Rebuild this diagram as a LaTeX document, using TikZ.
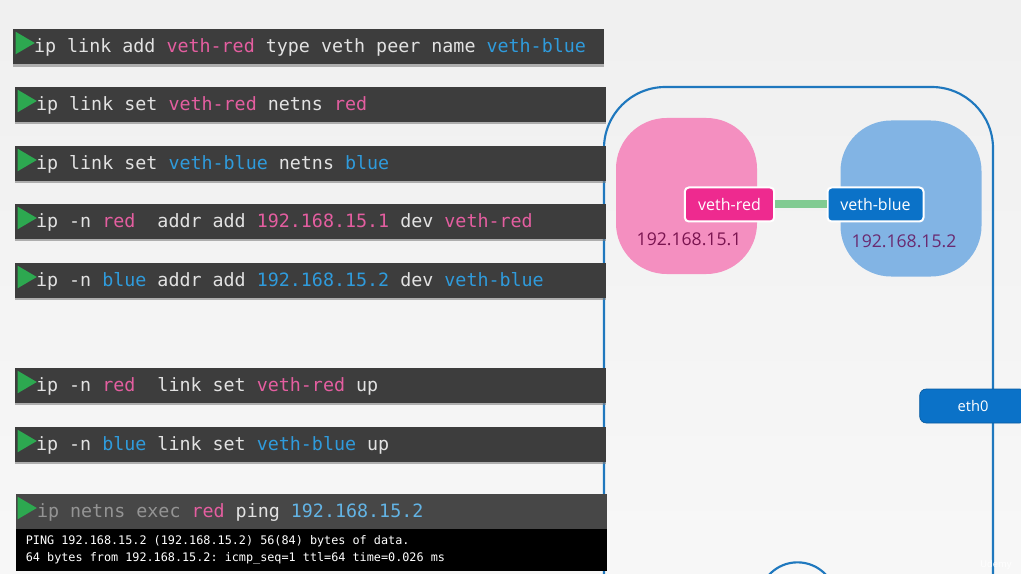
\documentclass[tikz,border=0pt]{standalone}
\usepackage{xcolor}
\usepackage{fontspec}
\setmainfont{Open Sans}
\newfontfamily\cmdfont{DejaVu Sans Mono}
\usepackage{tikz}
\usetikzlibrary{positioning, shadows, shapes.geometric}
\definecolor{rosa}{RGB}{228, 94, 160}
\definecolor{azul}{RGB}{47, 155, 220}
\definecolor{pizarra}{RGB}{61, 61, 61}
\definecolor{claro}{RGB}{226, 226, 226}
\definecolor{hoja}{RGB}{45, 168, 80}
\definecolor{linea}{RGB}{31, 120, 190}
\definecolor{rosaFondo}{RGB}{244, 143, 192}
\definecolor{azulFondo}{RGB}{130, 180, 228}
\definecolor{rosaFuerte}{RGB}{238, 42, 143}
\definecolor{azulFuerte}{RGB}{11, 114, 200}
\newcommand{\rd}[1]{\textcolor{rosa}{#1}}
\newcommand{\bl}[1]{\textcolor{azul}{#1}}
\newcommand{\cmdspaces}{\catcode`\ =\active}
\begingroup\catcode`\ =\active\gdef {\kern0.602em\relax}\endgroup
\tikzset{
    cmdbar/.style={anchor=west, fill=pizarra, text=claro, font=\fontsize{13.75}{16}\cmdfont\cmdspaces, text width=412pt, inner xsep=15.6pt, inner ysep=0pt, text height=10pt, text depth=1pt, minimum height=26.25pt, drop shadow={shadow xshift=0pt, shadow yshift=-1.8pt, opacity=0.6}},
    playmark/.style={isosceles triangle, isosceles triangle stretches, fill=hoja, minimum height=14.5pt, minimum width=17pt, inner sep=0pt},
    nsbox/.style={fill=#1, minimum width=105.75pt, minimum height=117pt, rounded corners=38pt},
    vethbox/.style={fill=#1, draw=white, line width=1.5pt, text=white, rounded corners=3pt, minimum height=25.5pt, inner sep=0pt, font=\fontsize{12}{14}\selectfont},
    iplabel/.style={font=\fontsize{13.2}{16}\selectfont, inner sep=0pt},
    conn/.style={-, line width=6pt, draw={rgb,255:red,129;green,203;blue,146}},
    hostline/.style={draw=linea, line width=1.6pt},
}
\begin{document}
\begin{tikzpicture}[x=0.75pt, y=-0.75pt]
    \clip (0,0) rectangle (1021,574);
    \shade[top color=black!6, bottom color=black!3] (0,0) rectangle (1021,574);

    \draw[hostline, rounded corners=46pt] (604,620) -- (604,87) -- (993,87) -- (993,620);
    \draw[hostline] (797.5,601) circle [radius=29pt];

    \node[nsbox=rosaFondo] (nsred) at (686.5,196) {};
    \node[nsbox=azulFondo] (nsblue) at (911,198.5) {};
    \node[vethbox=rosaFuerte, minimum width=67pt] (vethred) at (729.5,204.5) {veth-red};
    \node[vethbox=azulFuerte, minimum width=72pt] (vethblue) at (875.5,204.5) {veth-blue};
    \draw[conn] (vethred) -- (vethblue);
    \node[iplabel, text={rgb,255:red,122;green,20;blue,80}] (ipred) at (689,239) {192.168.15.1};
    \node[iplabel, text={rgb,255:red,106;green,42;blue,112}] (ipblue) at (904,241) {192.168.15.2};

    \node[fill=azulFuerte, draw=azulFuerte!80!black, line width=0.5pt, rounded corners=5pt, minimum width=80pt, minimum height=25.5pt, text=white, font=\fontsize{11}{13}\selectfont, inner sep=0pt, text depth=0pt] (eth) at (973,406) {eth0};

    \node[cmdbar] (c1) at (13,47) {\mbox{ip link add \rd{veth-red} type veth peer name \bl{veth-blue}}};
    \node[cmdbar] (c2) at (15,104.5) {ip link set \rd{veth-red} netns \rd{red}};
    \node[cmdbar] (c3) at (15,163.5) {ip link set \bl{veth-blue} netns \bl{blue}};
    \node[cmdbar] (c4) at (15,221.5) {ip -n \rd{red}  addr add \rd{192.168.15.1} dev \rd{veth-red}};
    \node[cmdbar] (c5) at (15,280.5) {ip -n \bl{blue} addr add \bl{192.168.15.2} dev \bl{veth-blue}};
    \node[cmdbar] (c6) at (15,385.5) {ip -n \rd{red}  link set \rd{veth-red} up};
    \node[cmdbar] (c7) at (15,444.5) {ip -n \bl{blue} link set \bl{veth-blue} up};
    \node[cmdbar, fill=black!72] (c8) at (16,511.5) {\textcolor{black!42}{ip netns exec} \rd{red} ping \textcolor{azul!75!white}{192.168.15.2}};

    \node[fill=black, text=white, anchor=north west, text width=429pt, inner xsep=7.2pt, inner ysep=3.5pt, minimum height=31.5pt, font=\fontsize{8.85}{12.7}\cmdfont\cmdspaces] (out) at (16,529) {PING 192.168.15.2 (192.168.15.2) 56(84) bytes of data.\\64 bytes from 192.168.15.2: icmp\_seq=1 ttl=64 time=0.026 ms};

    \node[playmark] (p1) at (22,43) {};
    \node[playmark] (p2) at (24,101) {};
    \node[playmark] (p3) at (24,160) {};
    \node[playmark] (p4) at (24,218) {};
    \node[playmark] (p5) at (24,277) {};
    \node[playmark] (p6) at (24,382) {};
    \node[playmark] (p7) at (24,441) {};
    \node[playmark] (p8) at (24,508) {};

    \node[text=white, font=\fontsize{7}{8}\selectfont, inner sep=0pt] (mark) at (996,565) {Udemy};
\end{tikzpicture}
\end{document}
